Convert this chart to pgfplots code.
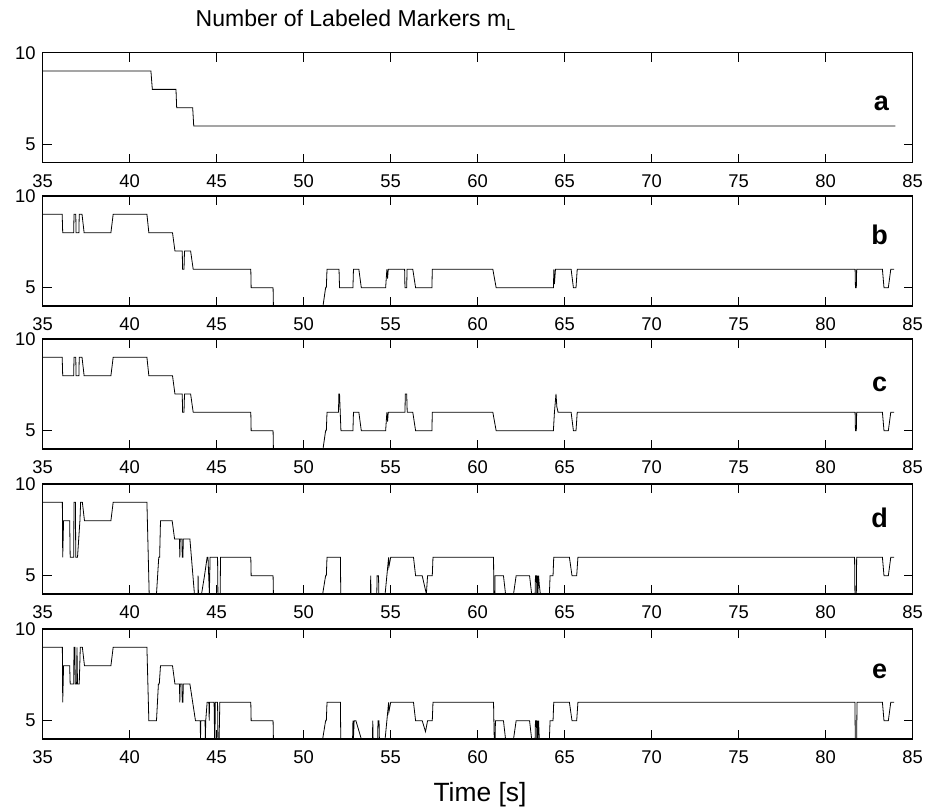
\documentclass[border=0pt]{standalone}
\usepackage{fontspec}
\setmainfont{Liberation Sans}
\usepackage{pgfplots}
\pgfplotsset{compat=1.18}
\pgfplotsset{
  panel/.style={
    scale only axis, width=435pt, height=55pt,
    anchor=north west,
    xmin=35, xmax=85, ymin=4, ymax=10,
    xtick={35,40,...,85}, ytick={5,10},
    tick align=inside, major tick length=4.5pt,
    tick style={black, line width=0.5pt},
    axis line style={black, line width=0.6pt},
    ticklabel style={font=\fontsize{9.2}{10}\selectfont},
    /pgf/number format/assume math mode=true,
    xticklabel style={yshift=-2.5pt},
    cycle list={{black, line width=0.5pt, no marks}},
  }
}
\tikzset{lett/.style={font=\bfseries\fontsize{13.5}{15}\selectfont, anchor=base}}
\begin{document}
\begin{tikzpicture}
\useasboundingbox (-21.35pt,-377.65pt) rectangle (442.65pt,26.35pt);
% ---------- a
\begin{axis}[panel, at={(0pt,0pt)}]
\addplot coordinates {(35,9) (41.22,9) (41.3,8) (42.66,8) (42.7,7) (43.62,7) (43.68,6) (84,6)};
\node[lett] at (axis cs:83.2,6.85) {a};
\end{axis}
% ---------- b
\begin{axis}[panel, at={(0pt,-71.65pt)}]
\addplot coordinates {(35,9) (36.12,9) (36.15,8) (36.78,8) (36.8,9) (36.9,9) (36.92,8) (37.08,8) (37.1,9) (37.26,9) (37.38,8)
 (38.92,8) (39.05,9) (40.99,9) (41.1,8) (42.46,8) (42.6,7) (43.02,7) (43.04,6) (43.12,6) (43.15,7) (43.5,7) (43.65,6)
 (46.96,6) (46.98,5) (48.24,5) (48.26,4) (51.11,4) (51.26,5) (51.3,5) (51.34,6) (52.03,6) (52.06,5) (52.83,5) (52.86,6)
 (53.17,6) (53.31,5) (54.71,5) (54.78,6) (54.82,5.5) (54.86,6) (55.8,6) (55.82,5) (55.92,5) (55.94,6) (56.27,6) (56.43,5)
 (57.37,5) (57.39,6) (60.87,6) (61.06,5) (64.35,5) (64.38,6) (64.41,5.2) (64.47,6) (65.37,6) (65.5,5) (65.65,5) (65.72,6)
 (81.69,6) (81.71,5) (81.76,5) (81.78,6) (83.26,6) (83.35,5) (83.6,5) (83.74,6) (83.93,6)};
\node[lett] at (axis cs:83.1,7.37) {b};
\end{axis}
% ---------- c
\begin{axis}[panel, at={(0pt,-143.15pt)}]
\addplot coordinates {(35,9) (36.12,9) (36.15,8) (36.78,8) (36.8,9) (36.9,9) (36.92,8) (37.08,8) (37.1,9) (37.26,9) (37.38,8)
 (38.92,8) (39.05,9) (40.99,9) (41.1,8) (42.46,8) (42.6,7) (43.02,7) (43.04,6) (43.12,6) (43.15,7) (43.5,7) (43.65,6)
 (46.96,6) (46.98,5) (48.24,5) (48.26,4) (51.11,4) (51.26,5) (51.3,5) (51.34,6) (52.0,6) (52.02,7) (52.06,7) (52.14,5)
 (52.83,5) (52.86,6) (53.17,6) (53.31,5) (54.71,5) (54.78,6) (54.82,5.5) (54.86,6) (55.82,6) (55.84,7) (55.92,7) (55.95,6)
 (56.27,6) (56.43,5) (57.37,5) (57.39,6) (60.87,6) (61.06,5) (64.35,5) (64.41,6) (64.5,7) (64.55,6.3) (64.62,6)
 (65.37,6) (65.5,5) (65.65,5) (65.72,6)
 (81.69,6) (81.71,5) (81.76,5) (81.78,6) (83.26,6) (83.35,5) (83.6,5) (83.74,6) (83.93,6)};
\node[lett] at (axis cs:83.1,7.15) {c};
\end{axis}
% ---------- d
\begin{axis}[panel, at={(0pt,-215.65pt)}]
\addplot coordinates {(35,9) (36.13,9) (36.15,6) (36.2,8) (36.55,8) (36.58,6) (36.78,6) (36.8,9) (36.88,9) (36.9,6) (37.0,6)
 (37.14,8) (37.18,9) (37.28,9) (37.4,8) (38.92,8) (39.05,9) (40.99,9) (41.12,4) (41.54,4) (41.67,6) (41.72,6) (41.77,8)
 (42.44,8) (42.58,7) (42.86,7) (42.88,6) (42.9,7) (43.0,7) (43.02,6) (43.06,6) (43.08,7) (43.46,7) (43.72,4) (43.92,4)
 (43.93,5) (43.95,4) (44.13,4) (44.3,5) (44.45,6) (44.5,6) (44.58,4) (44.62,6) (45.05,6) (45.07,4) (45.2,4) (45.22,6)
 (46.96,6) (46.98,5) (48.24,5) (48.26,4) (51.09,4) (51.26,5) (51.3,5) (51.34,6) (52.11,6) (52.13,4) (53.84,4) (53.85,5)
 (53.87,4) (54.2,4) (54.22,5) (54.3,5) (54.32,4) (54.68,4) (54.88,6) (54.9,5.5) (55.0,6) (56.31,6) (56.43,5) (56.81,5)
 (57.05,4) (57.12,5) (57.39,5) (57.43,6) (60.91,6) (60.93,4) (60.99,4) (61.0,5) (61.48,5) (61.6,4) (62.06,4) (62.21,5)
 (62.98,5) (63.1,4) (63.3,4) (63.32,5) (63.38,5) (63.4,4) (63.44,5) (63.46,4) (63.5,5) (63.54,4.5) (63.6,4) (64.12,4)
 (64.16,5) (64.33,5) (64.37,6) (65.27,6) (65.42,5) (65.69,5) (65.76,6) (81.66,6) (81.68,4) (81.76,4) (81.78,6)
 (83.26,6) (83.35,5) (83.6,5) (83.74,6) (83.93,6)};
\node[lett] at (axis cs:83.1,7.6) {d};
\end{axis}
% ---------- e
\begin{axis}[panel, at={(0pt,-288.15pt)}]
\addplot coordinates {(35,9) (36.13,9) (36.15,6) (36.2,8) (36.55,8) (36.58,7) (36.78,7) (36.8,9) (36.85,9) (36.87,7)
 (36.95,7) (36.97,9) (37.0,7) (37.1,7) (37.16,9) (37.28,9) (37.4,8) (38.92,8) (39.05,9) (40.99,9) (41.1,5) (41.54,5)
 (41.65,7) (41.7,7) (41.77,8) (42.46,8) (42.6,7) (42.86,7) (42.88,6) (42.9,7) (43.0,7) (43.02,6) (43.06,6) (43.08,7)
 (43.46,7) (43.78,5) (44.05,5) (44.07,4) (44.09,5) (44.33,5) (44.35,4) (44.37,5) (44.45,6) (44.55,6) (44.57,5) (44.59,6)
 (44.85,6) (44.88,4) (44.9,4) (44.92,6) (45.05,6) (45.07,4) (45.14,4) (45.18,6) (46.96,6) (46.98,5) (48.24,5) (48.26,4)
 (51.09,4) (51.26,5) (51.3,5) (51.34,6) (52.11,6) (52.13,4) (52.81,4) (52.83,5) (52.86,4) (52.9,5) (53.0,5) (53.31,4)
 (53.95,4) (53.97,5) (53.99,4) (54.25,4) (54.27,5) (54.33,5) (54.35,4) (54.68,4) (54.88,6) (54.9,5.5) (55.0,6) (56.31,6)
 (56.43,5) (56.81,5) (57.0,4.4) (57.12,5) (57.39,5) (57.43,6) (60.91,6) (60.95,4) (61.0,4) (61.02,5) (61.48,5) (61.6,4)
 (62.06,4) (62.21,5) (62.98,5) (63.1,4) (63.3,4) (63.32,5) (63.38,5) (63.4,4) (63.44,5) (63.46,4) (63.5,5) (63.54,4)
 (64.12,4) (64.16,5) (64.33,5) (64.37,6) (65.27,6) (65.42,5) (65.69,5) (65.76,6) (81.68,6) (81.7,4) (81.78,4) (81.8,6)
 (83.26,6) (83.35,5) (83.6,5) (83.74,6) (83.93,6)};
\node[lett] at (axis cs:83.1,7.3) {e};
\end{axis}
\node[font=\fontsize{11.5}{13}\selectfont] at (156.65pt,16.35pt) {Number of Labeled Markers m\textsubscript{L}};
\node[font=\fontsize{13.2}{15}\selectfont] at (218.65pt,-371.15pt) {Time [s]};
\end{tikzpicture}
\end{document}
